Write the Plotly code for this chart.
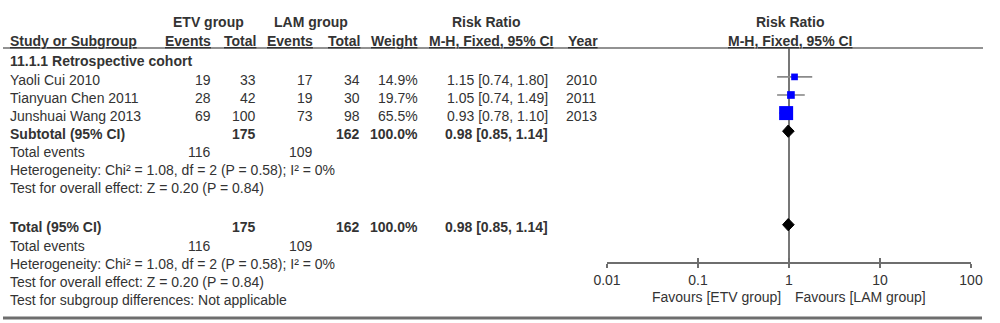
import numpy as np
import plotly.graph_objects as go

# ---- data ----
studies = ["Yaoli Cui 2010", "Tianyuan Chen 2011", "Junshuai Wang 2013"]
etv_events = [19, 28, 69]
etv_total = [33, 42, 100]
lam_events = [17, 19, 73]
lam_total = [34, 30, 98]
weights = [14.9, 19.7, 65.5]
rr = [1.15, 1.05, 0.93]
rr_lo = [0.74, 0.74, 0.78]
rr_hi = [1.80, 1.49, 1.10]
years = [2010, 2011, 2013]

pooled_rr = [0.98]
pooled_lo = [0.85]
pooled_hi = [1.14]
etv_events_sum = 116
lam_events_sum = 109
etv_total_sum = 175
lam_total_sum = 162
pooled_weight = 100.0

subgroup_title = "11.1.1 Retrospective cohort"
het_text = "Heterogeneity: Chi² = 1.08, df = 2 (P = 0.58); I² = 0%"
effect_text = "Test for overall effect: Z = 0.20 (P = 0.84)"
subgroup_diff_text = "Test for subgroup differences: Not applicable"

tick_vals = [0.01, 0.1, 1, 10, 100]
tick_labels = ["0.01", "0.1", "1", "10", "100"]

# ---- layout constants (pixels) ----
W, H = 1000, 323
ROW0, PITCH = 61.5, 18.1          # first table row centre and row pitch
GAP = 3.0                         # extra space before the overall block
TOP_RULE, AXIS_Y = 48, 262        # header rule and x-axis line
MARK_DY = -0.15                   # markers sit slightly above the text line
FONT = "Liberation Sans, Arial, sans-serif"
FS = 14
TXT = "#333333"


def row_y(r):
    """row index -> y-axis units (includes the gap before the overall block)"""
    return r + (GAP / PITCH if r >= 8 else 0.0)


def row_px(r):
    return ROW0 + PITCH * row_y(r)


def axis_units(px):
    return (px - ROW0) / PITCH


def py(px):
    return 1 - px / H


fig = go.Figure()

study_rows = [1, 2, 3]
mark_y = [row_y(r) + MARK_DY for r in study_rows]

# confidence-interval whiskers
ci_x, ci_y = [], []
for lo, hi, y in zip(rr_lo, rr_hi, mark_y):
    ci_x += [lo, hi, None]
    ci_y += [y, y, None]
fig.add_trace(go.Scatter(x=ci_x, y=ci_y, mode="lines",
                         line=dict(color="#8a8a8a", width=1.6),
                         hoverinfo="skip", showlegend=False))

# study squares; square area follows the weight
sizes = [14 * np.sqrt(w / max(weights)) for w in weights]
fig.add_trace(go.Scatter(
    x=rr, y=mark_y, mode="markers",
    marker=dict(symbol="square", size=sizes, color="#0000ff", opacity=1,
                line=dict(width=0)),
    hoverinfo="skip", showlegend=False,
))

# pooled diamonds (subtotal and overall)
half_h = 0.34
for r in (4, 9):
    yc = row_y(r) + MARK_DY
    fig.add_trace(go.Scatter(
        x=[pooled_lo[0], pooled_rr[0], pooled_hi[0], pooled_rr[0], pooled_lo[0]],
        y=[yc, yc - half_h, yc, yc + half_h, yc],
        mode="lines", fill="toself", fillcolor="black",
        line=dict(color="black", width=1), hoverinfo="skip", showlegend=False,
    ))

anns = []


def txt_px(x_px, y_px, text, anchor="left", bold=False, under=False):
    t = str(text)
    if under:
        t = f"<u>{t}</u>"
    if bold:
        t = f"<b>{t}</b>"
    anns.append(dict(x=x_px / W, y=py(y_px), xref="paper", yref="paper", text=t,
                     xanchor=anchor, yanchor="middle", showarrow=False,
                     font=dict(family=FONT, size=FS, color=TXT)))


def txt(x_px, row, text, anchor="left", bold=False, under=False):
    txt_px(x_px, row_px(row), text, anchor, bold, under)


# header rows
hy1, hy2 = 22, 41
txt_px(208, hy1, "ETV group", "center", bold=True)
txt_px(311, hy1, "LAM group", "center", bold=True)
txt_px(486, hy1, "Risk Ratio", "center", bold=True)
txt_px(790, hy1, "Risk Ratio", "center", bold=True)
txt_px(8, hy2, "Study or Subgroup", "left", True, True)
txt_px(213, hy2, "Events", "right", True, True)
txt_px(258, hy2, "Total", "right", True, True)
txt_px(315, hy2, "Events", "right", True, True)
txt_px(362, hy2, "Total", "right", True, True)
txt_px(420, hy2, "Weight", "right", True, True)
txt_px(491, hy2, "M-H, Fixed, 95% CI", "center", True, True)
txt_px(566, hy2, "Year", "left", True, True)
txt_px(790, hy2, "M-H, Fixed, 95% CI", "center", True, True)

# subgroup block
txt(8, 0, subgroup_title, bold=True)
for i, s in enumerate(studies):
    r = study_rows[i]
    txt(8, r, s)
    txt(213, r, etv_events[i], "right")
    txt(258, r, etv_total[i], "right")
    txt(315, r, lam_events[i], "right")
    txt(362, r, lam_total[i], "right")
    txt(420, r, f"{weights[i]:.1f}%", "right")
    txt(550, r, f"{rr[i]:.2f} [{rr_lo[i]:.2f}, {rr_hi[i]:.2f}]", "right")
    txt(564, r, years[i])

pooled_ci = f"{pooled_rr[0]:.2f} [{pooled_lo[0]:.2f}, {pooled_hi[0]:.2f}]"
for r, label, extra in ((4, "Subtotal (95% CI)", [het_text, effect_text]),
                        (9, "Total (95% CI)", [het_text, effect_text, subgroup_diff_text])):
    txt(8, r, label, bold=True)
    txt(258, r, etv_total_sum, "right", bold=True)
    txt(362, r, lam_total_sum, "right", bold=True)
    txt(420, r, f"{pooled_weight:.1f}%", "right", bold=True)
    txt(550, r, pooled_ci, "right", bold=True)
    txt(8, r + 1, "Total events")
    txt(213, r + 1, etv_events_sum, "right")
    txt(315, r + 1, lam_events_sum, "right")
    for k, line in enumerate(extra):
        txt(8, r + 2 + k, line)

# favours labels under the axis
txt_px(783, 297, "Favours [ETV group]", "right")
txt_px(793, 297, "Favours [LAM group]", "left")

shapes = [
    dict(type="line", xref="paper", yref="paper", x0=3 / W, x1=983 / W,
         y0=py(TOP_RULE), y1=py(TOP_RULE), line=dict(color="#6e6e6e", width=1.5)),
    dict(type="line", xref="paper", yref="paper", x0=3 / W, x1=982 / W,
         y0=py(318), y1=py(318), line=dict(color="#6e6e6e", width=3)),
    dict(type="line", xref="x", yref="paper", x0=1, x1=1,
         y0=py(AXIS_Y), y1=py(TOP_RULE), line=dict(color="#4a4a4a", width=1.5),
         layer="below"),
]

x_dom = [607 / W, 971 / W]
fig.update_layout(
    width=W, height=H,
    margin=dict(l=0, r=0, t=0, b=0, pad=0, autoexpand=False),
    paper_bgcolor="white", plot_bgcolor="rgba(0,0,0,0)",
    annotations=anns, shapes=shapes,
    xaxis=dict(type="log", range=[-2, 2], domain=x_dom, anchor="y", automargin=False,
               showline=True, linecolor="#6e6e6e", linewidth=1.5,
               ticks="outside", ticklen=4, tickwidth=1.5, tickcolor="#6e6e6e",
               tickvals=tick_vals, ticktext=tick_labels,
               tickfont=dict(family=FONT, size=FS, color=TXT),
               showgrid=False, zeroline=False),
    xaxis2=dict(type="log", range=[-2, 2], domain=x_dom, anchor="y", overlaying="x",
                automargin=False,
                ticks="inside", ticklen=4, tickwidth=1.5, tickcolor="#6e6e6e",
                tickvals=tick_vals, showticklabels=False, showline=False,
                showgrid=False, zeroline=False),
    yaxis=dict(domain=[py(AXIS_Y), py(TOP_RULE)], automargin=False,
               range=[axis_units(AXIS_Y), axis_units(TOP_RULE)],
               visible=False, showgrid=False, zeroline=False),
)
# invisible trace so the secondary tick axis is drawn
fig.add_trace(go.Scatter(x=[1], y=[0], xaxis="x2", mode="markers",
                         marker=dict(opacity=0), hoverinfo="skip", showlegend=False))

fig.write_html("out.html")
